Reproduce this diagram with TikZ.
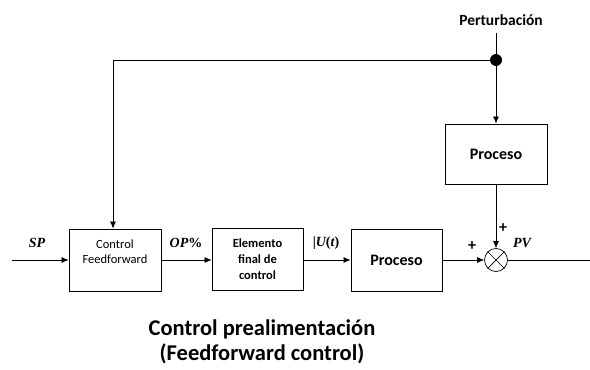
\documentclass[tikz,border=0pt]{standalone}
\usepackage{fontspec}
\setmainfont{Carlito}
\newfontfamily\labfont{Liberation Serif}
\usetikzlibrary{arrows.meta}
\begin{document}
\begin{tikzpicture}[x=1pt,y=-1pt,
  blockbox/.style={draw, line width=0.8pt, fill=white, align=center, inner sep=2pt},
  sig/.style={line width=0.7pt, -{Latex[length=7pt,width=6pt]}},
  wire/.style={line width=0.7pt},
  siglab/.style={font=\labfont\bfseries\itshape\fontsize{14}{16}\selectfont},
  pluslab/.style={font=\bfseries\fontsize{16}{16}\selectfont}]
\useasboundingbox (0,0) rectangle (590,370);

% blocks
\node[blockbox, minimum width=92pt, minimum height=62pt] (ff) at (115,260) {};
\node[align=center, font=\fontsize{12.5}{15}\selectfont] (fftext) at (115,252) {Control\\Feedforward};
\node[blockbox, minimum width=91pt, minimum height=62pt,
      font=\bfseries\fontsize{12.5}{16}\selectfont] (efc) at (257.5,259) {Elemento\\final de\\control};
\node[blockbox, minimum width=91pt, minimum height=62pt,
      font=\bfseries\fontsize{16}{18}\selectfont] (proc) at (396.5,260) {Proceso};
\node[blockbox, minimum width=102pt, minimum height=60pt,
      font=\bfseries\fontsize{16}{18}\selectfont] (proc2) at (496,154) {Proceso};

% summing junction
\node[draw, circle, line width=0.7pt, minimum size=23pt, inner sep=0pt] (sum) at (496,260) {};
\draw[wire] (sum.north east) -- (sum.south west) (sum.north west) -- (sum.south east);

% disturbance pick-off point
\node[circle, fill=black, minimum size=12pt, inner sep=0pt] (dot) at (496,60) {};
\node[font=\bfseries\fontsize{15.5}{17}\selectfont] (pert) at (501,20) {Perturbación};

% end points of the open lines
\coordinate (in) at (12,260);
\coordinate (out) at (590,260);
\coordinate (corner) at (113,60);
\coordinate (pertend) at (496,33);

% connectors
\draw[wire] (pertend) -- (dot);
\draw[sig] (dot) -- (proc2.north);
\draw[wire] (dot) -- (corner);
\draw[sig] (corner) -- (corner |- ff.north);
\draw[sig] (in) -- (ff.west);
\draw[sig] (ff.east) -- (efc.west |- ff.east);
\draw[sig] (efc.east |- ff.east) -- (proc.west);
\draw[sig] (proc.east) -- (sum.west);
\draw[sig] (proc2.south) -- (sum.north);
\draw[wire] (sum.east) -- (out);

% signal labels
\node[siglab] (sp) at (37,243) {SP};
\node[siglab] (op) at (186,243) {OP\upshape\%};
\node[siglab] (u) at (326,243) {\upshape|\itshape U\upshape(\itshape t\upshape)};
\node[siglab] (pv) at (522,243) {PV};
\node[pluslab] (p1) at (472,246) {+};
\node[pluslab] (p2) at (503,228) {+};

% caption
\node[font=\bfseries\fontsize{22.5}{26}\selectfont] (t1) at (262,329) {Control prealimentación};
\node[font=\bfseries\fontsize{22.5}{26}\selectfont] (t2) at (262,354) {(Feedforward control)};
\end{tikzpicture}
\end{document}
